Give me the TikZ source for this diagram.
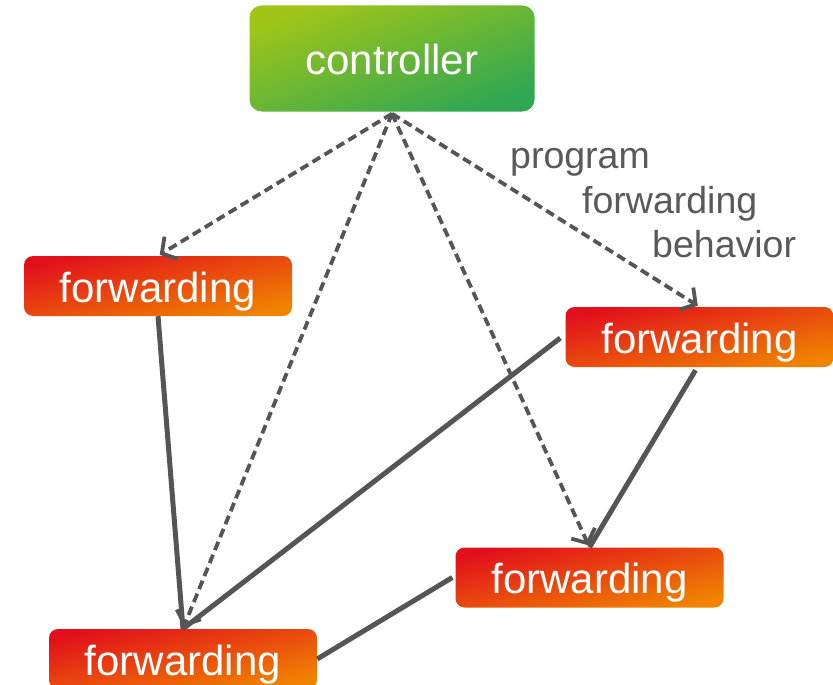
\documentclass[tikz,border=0pt]{standalone}
\usepackage{fontspec}
\setmainfont{Liberation Sans}
\usetikzlibrary{arrows.meta,calc}

\definecolor{linegray}{HTML}{555555}
\definecolor{textgray}{HTML}{595959}
\definecolor{fwdred}{HTML}{E2101C}
\definecolor{fwdorange}{HTML}{F08400}
\definecolor{ctrlyellowgreen}{HTML}{A0C518}
\definecolor{ctrlgreen}{HTML}{30A753}

\tikzset{
  boxtext/.style={text=white, font=\fontsize{42}{48}\selectfont, inner sep=0pt,
    text height=32pt, text depth=0pt},
  fwdbox/.style={boxtext, rounded corners=9pt, top color=fwdred, bottom color=fwdorange,
    shading angle=13, minimum width=268pt, minimum height=60pt},
  ctrlbox/.style={boxtext, rounded corners=12pt, top color=ctrlyellowgreen, bottom color=ctrlgreen,
    shading angle=20, minimum width=285pt, minimum height=106pt},
  ctrlarrow/.style={draw=linegray, line width=3.8pt, dash pattern=on 9pt off 5pt,
    -{Straight Barb[length=11pt,width=26pt,line width=3.8pt]}, shorten >=2pt},
  link/.style={draw=linegray, line width=5pt},
  note/.style={text=textgray, font=\fontsize{37.5}{42}\selectfont, anchor=base west, inner sep=0pt}
}

\begin{document}
\begin{tikzpicture}[x=1pt, y=-1pt]
  \clip (0,0) rectangle (833,685);

  % boxes
  \node[ctrlbox] (ctrl) at (392,58.5) {controller};
  \node[fwdbox] (f1) at (158,286) {forwarding};
  \node[fwdbox] (f2) at (699.5,337) {forwarding};
  \node[fwdbox] (f3) at (589.5,577.5) {forwarding};
  \node[fwdbox] (f4) at (183,659) {forwarding};

  % data-plane links
  \draw[link] (f1.south) -- (f4.north);
  \draw[link] ($(f2.west)+(-5,1)$) -- (f4.north);
  \draw[link] ($(f2.south)+(-4,3)$) -- (f3.north);
  \draw[link] ($(f3.west)+(-3,0)$) -- (f4.east);

  % control channels
  \coordinate (hub) at ($(ctrl.south)+(0,2)$);
  \draw[ctrlarrow] (hub) -- (f1.north);
  \draw[ctrlarrow] (hub) -- (f2.north);
  \draw[ctrlarrow] (hub) -- (f3.north);
  \draw[ctrlarrow] (hub) -- (f4.north);

  % label
  \node[note] (l1) at (510,168) {program};
  \node[note] (l2) at (582,213) {forwarding};
  \node[note] (l3) at (652,257) {behavior};
\end{tikzpicture}
\end{document}
